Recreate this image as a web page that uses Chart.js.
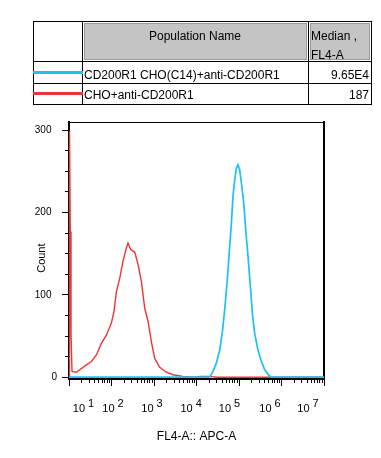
<!DOCTYPE html>
<html>
<head>
<meta charset="utf-8">
<script src="https://cdn.jsdelivr.net/npm/chart.js@4.4.1/dist/chart.umd.min.js"></script>
<style>
  html, body { margin: 0; padding: 0; background: #fff; }
  body { width: 381px; height: 458px; position: relative; overflow: hidden;
         font-family: "Liberation Sans", Arial, sans-serif; color: #000; }
  #c { position: absolute; left: 0; top: 0; }
  .ln { position: absolute; background: #000; }
  .gray { position: absolute; background: #c4c4c4; border: 1px solid #9a9a9a; box-sizing: border-box; }
  .t { position: absolute; font-size: 12px; line-height: 14px; white-space: nowrap; }
  .leg { position: absolute; height: 3px; }
</style>
</head>
<body>
<canvas id="c" width="381" height="458"></canvas>

<div id="tbl">
  <div class="gray" style="left:84px; top:23px; width:223px; height:37px;"></div>
  <div class="gray" style="left:310px; top:23px; width:60px; height:37px;"></div>
  <div class="ln" style="left:33px; top:21px; width:339px; height:1px;"></div>
  <div class="ln" style="left:33px; top:61px; width:339px; height:1px;"></div>
  <div class="ln" style="left:33px; top:83px; width:339px; height:1px;"></div>
  <div class="ln" style="left:33px; top:104px; width:339px; height:1px;"></div>
  <div class="ln" style="left:33px; top:21px; width:1px; height:84px;"></div>
  <div class="ln" style="left:82px; top:21px; width:1px; height:84px;"></div>
  <div class="ln" style="left:308px; top:21px; width:1px; height:84px;"></div>
  <div class="ln" style="left:371px; top:21px; width:1px; height:84px;"></div>
  <div class="leg" id="legCyan" style="left:33px; top:71px; width:50px;"></div>
  <div class="leg" id="legRed" style="left:33px; top:92px; width:50px;"></div>
  <div class="t" style="left:82px; width:226px; text-align:center; top:28.5px;">Population Name</div>
  <div class="t" style="left:311px; top:28.5px;">Median ,</div>
  <div class="t" style="left:311px; top:47.5px;">FL4-A</div>
  <div class="t" id="name0" style="left:84px; top:67.5px;"></div>
  <div class="t" id="med0" style="right:12px; top:68px;"></div>
  <div class="t" id="name1" style="left:84px; top:88px;"></div>
  <div class="t" id="med1" style="right:12px; top:88px;"></div>
</div>

<script>
// ---------------- data ----------------
const populationNames = ["CD200R1 CHO(C14)+anti-CD200R1", "CHO+anti-CD200R1"];
const medians = ["9.65E4", "187"];
const seriesColors = ["#1cc3f0", "#f03434"];

// x values are in decades: value v means 10^v on the FL4-A::APC-A axis
const cyanX = [1.0, 4.311, 4.388, 4.468, 4.546, 4.609, 4.664, 4.718, 4.765, 4.821, 4.859, 4.899, 4.939, 4.976,
               5.016, 5.056, 5.111, 5.158, 5.212, 5.268, 5.315, 5.369, 5.447, 5.527, 5.605, 5.706, 5.762, 7.0];
const cyanY = [0, 0, 7, 17, 33, 55, 82, 114, 147, 187, 220, 240, 254, 258,
               252, 236, 212, 179, 147, 110, 78, 53, 33, 19, 9, 2, 0, 0];

const redX = [1.0, 1.012, 1.030, 1.047, 1.071, 1.174, 1.252, 1.409, 1.527, 1.645, 1.762, 1.880, 1.998, 2.059,
              2.115, 2.193, 2.271, 2.351, 2.388, 2.452, 2.546, 2.624, 2.704, 2.781, 2.859, 2.939, 3.016, 3.134,
              3.292, 3.447, 3.682, 3.95, 4.08, 4.30, 4.48, 7.0];
const redY = [0, 299, 177, 53, 7, 6, 9, 15, 19, 27, 41, 51, 66, 80,
              104, 120, 141, 157, 163, 155, 152, 137, 116, 84, 68, 43, 23, 12,
              6, 3, 1, 0, 1, 1, 0, 0];

// axis ticks
const xDecades = [1, 2, 3, 4, 5, 6, 7];
const xLabelExps = [1, 2, 3, 4, 5, 6, 7];
const xLabelPos = [1.341, 2.035, 2.953, 3.875, 4.776, 5.729, 6.624];
const yMajorTicks = [0, 100, 200, 300];
const yMinorTicks = [0, 25, 50, 75, 100, 125, 150, 175, 200, 225, 250, 275, 300];
const xRange = [1, 7];
const yRange = [-2.2, 310];
const xTitle = "FL4-A:: APC-A";
const yTitle = "Count";

// ---------------- table text ----------------
document.getElementById('name0').textContent = populationNames[0];
document.getElementById('name1').textContent = populationNames[1];
document.getElementById('med0').textContent = medians[0];
document.getElementById('med1').textContent = medians[1];
document.getElementById('legCyan').style.background = seriesColors[0];
document.getElementById('legRed').style.background = seriesColors[1];

// ---------------- chart ----------------
const FONT = "'Liberation Sans', Arial, sans-serif";
Chart.defaults.font.family = FONT;
Chart.defaults.color = '#000';

// minor tick values (1..9 x 10^n in decade units)
const xMinorTicks = [];
xDecades.forEach(d => {
  if (d === xDecades[xDecades.length - 1]) { xMinorTicks.push(d); return; }
  for (let k = 1; k <= 9; k++) xMinorTicks.push(d + Math.log10(k));
});

const setTicks = arr => scale => { scale.ticks = arr.map(v => ({ value: v })); };
const fixH = h => scale => { scale.height = h; };
const fixW = w => scale => { scale.width = w; };

const hidden = { display: false };

new Chart(document.getElementById('c'), {
  type: 'line',
  data: {
    datasets: [
      {
        label: populationNames[0],
        data: cyanX.map((x, i) => ({ x, y: cyanY[i] })),
        borderColor: seriesColors[0], borderWidth: 1.7, pointRadius: 0, tension: 0, fill: false,
        xAxisID: 'x', yAxisID: 'y'
      },
      {
        label: populationNames[1],
        data: redX.map((x, i) => ({ x, y: redY[i] })),
        borderColor: seriesColors[1], borderWidth: 1.4, pointRadius: 0, tension: 0, fill: false,
        xAxisID: 'x', yAxisID: 'y'
      }
    ]
  },
  options: {
    responsive: false,
    animation: false,
    devicePixelRatio: 1,
    layout: { padding: { left: 0, top: 122, right: 57, bottom: 0 } },
    plugins: { legend: hidden, tooltip: { enabled: false } },
    scales: {
      x: {
        type: 'linear', position: 'bottom', weight: 0,
        min: xRange[0], max: xRange[1],
        afterBuildTicks: setTicks(xMinorTicks), afterFit: fixH(4),
        ticks: { display: false, autoSkip: false },
        grid: { display: true, drawOnChartArea: false, drawTicks: true, tickLength: 4, tickColor: '#000', tickWidth: 1 },
        border: { display: true, color: '#000', width: 2 }
      },
      xMajor: {
        type: 'linear', position: 'bottom', weight: 1,
        min: xRange[0], max: xRange[1],
        afterBuildTicks: setTicks(xDecades), afterFit: fixH(3),
        ticks: { display: false, autoSkip: false },
        grid: { display: true, drawOnChartArea: false, drawTicks: true, tickLength: 3, tickColor: '#000', tickWidth: 1 },
        border: { display: false }
      },
      xLabels: {
        type: 'linear', position: 'bottom', weight: 2,
        min: xRange[0], max: xRange[1],
        afterBuildTicks: setTicks(xLabelPos), afterFit: fixH(72),
        ticks: {
          display: true, autoSkip: false, maxRotation: 0, minRotation: 0, padding: 7,
          font: { size: 11, lineHeight: 0.48 },
          callback: (v, i) => ['     ' + xLabelExps[i], '10   ']
        },
        grid: { display: false },
        border: { display: false },
        title: { display: true, text: xTitle, font: { size: 12 }, padding: { top: 0, bottom: 14 } }
      },
      x2: {
        type: 'linear', position: 'top', min: xRange[0], max: xRange[1],
        afterFit: fixH(0),
        ticks: { display: false },
        grid: { drawOnChartArea: false, drawTicks: false },
        border: { display: true, color: '#000', width: 1 }
      },
      y: {
        type: 'linear', position: 'left', weight: 0,
        min: yRange[0], max: yRange[1],
        afterBuildTicks: setTicks(yMinorTicks), afterFit: fixW(4),
        ticks: { display: false, autoSkip: false },
        grid: { display: true, drawOnChartArea: false, drawTicks: true, tickLength: 4, tickColor: '#000', tickWidth: 1 },
        border: { display: true, color: '#000', width: 2 }
      },
      yMajor: {
        type: 'linear', position: 'left', weight: 1,
        min: yRange[0], max: yRange[1],
        afterBuildTicks: setTicks(yMajorTicks), afterFit: fixW(65),
        ticks: {
          display: true, autoSkip: false, padding: 5, font: { size: 10 },
          callback: v => (v === 0 ? '0' : String(v) + '  ')
        },
        grid: { display: true, drawOnChartArea: false, drawTicks: true, tickLength: 3, tickColor: '#000', tickWidth: 1 },
        border: { display: false },
        title: { display: true, text: yTitle + '     ', font: { size: 11 }, padding: { top: 35, bottom: 0 } }
      },
      y2: {
        type: 'linear', position: 'right', min: yRange[0], max: yRange[1],
        afterFit: fixW(0),
        ticks: { display: false },
        grid: { drawOnChartArea: false, drawTicks: false },
        border: { display: true, color: '#000', width: 2 }
      }
    }
  }
});
</script>
</body>
</html>
